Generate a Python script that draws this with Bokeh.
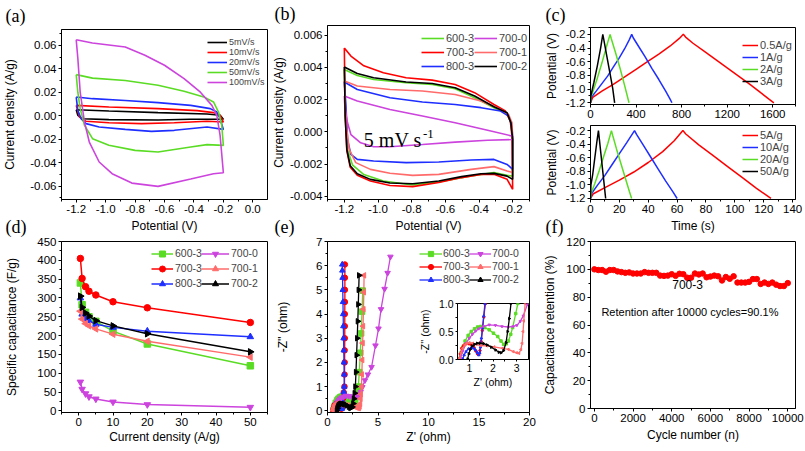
import math
from bokeh.plotting import figure
from bokeh.layouts import row, column
from bokeh.models import (Range1d, FixedTicker, NumeralTickFormatter, Legend,
                          LegendItem, Label, Title)
from bokeh.embed import file_html
from bokeh.resources import INLINE

SANS = "Liberation Sans"
SERIF = "Liberation Serif"
RED = "#FF0000"
BLUE = "#1E2EFF"
GREEN = "#5ADC24"
MAGENTA = "#CC44DD"
SALMON = "#FF6B6B"
BLACK = "#000000"

# ---------------- (a) CV at different scan rates ----------------
a_labels = ["5mV/s", "10mV/s", "20mV/s", "50mV/s", "100mV/s"]
a_x_5 = [-1.2, -0.978, -0.644, -0.311, -0.222, -0.2, -0.422, -0.644, -0.978, -1.156, -1.189, -1.2]
a_y_5 = [0.0051, 0.0040, 0.0026, 0.0014, 0.0004, -0.0031, -0.0031, -0.0037, -0.0034, -0.0026, 0.0003, 0.0051]
a_x_10 = [-1.2, -0.978, -0.644, -0.378, -0.267, -0.222, -0.2, -0.311, -0.533, -0.756, -0.978, -1.133, -1.178, -1.2]
a_y_10 = [0.0088, 0.0074, 0.0060, 0.0043, 0.0026, 0.0003, -0.0054, -0.0048, -0.0060, -0.0068, -0.0060, -0.0048, -0.0011, 0.0088]
a_x_20 = [-1.2, -1.089, -0.867, -0.644, -0.422, -0.289, -0.244, -0.222, -0.2, -0.311, -0.533, -0.689, -0.867, -1.044, -1.133, -1.167, -1.189, -1.2]
a_y_20 = [0.0159, 0.0145, 0.0130, 0.0111, 0.0088, 0.0060, 0.0031, -0.0026, -0.0117, -0.0097, -0.0125, -0.0134, -0.0117, -0.0097, -0.0068, -0.0026, 0.0045, 0.0159]
a_x_50 = [-1.2, -1.089, -0.867, -0.644, -0.467, -0.333, -0.267, -0.233, -0.211, -0.2, -0.311, -0.422, -0.644, -0.8, -0.978, -1.089, -1.144, -1.173, -1.189, -1.2]
a_y_50 = [0.035, 0.032, 0.030, 0.0259, 0.0208, 0.016, 0.0117, 0.0031, -0.0082, -0.0253, -0.0247, -0.0267, -0.031, -0.0296, -0.0253, -0.0196, -0.0082, 0.006, 0.020, 0.035]
a_x_100 = [-1.2, -1.09, -0.867, -0.733, -0.6, -0.467, -0.356, -0.278, -0.244, -0.222, -0.2, -0.267, -0.422, -0.644, -0.822, -0.956, -1.044, -1.111, -1.144, -1.173, -1.189, -1.2]
a_y_100 = [0.0648, 0.062, 0.0586, 0.0515, 0.043, 0.0316, 0.020, 0.0088, 0.0, -0.017, -0.0487, -0.0495, -0.054, -0.0603, -0.0575, -0.0495, -0.0395, -0.0225, -0.0054, 0.0202, 0.049, 0.0648]

# ---------------- (b) CV at 5 mV/s, samples ----------------
b_x_600_3 = [-1.2, -1.123, -1.026, -0.833, -0.678, -0.542, -0.426, -0.311, -0.233, -0.21, -0.2, -0.2, -0.233, -0.311, -0.446, -0.639, -0.794, -0.968, -1.084, -1.152, -1.181, -1.193, -1.2]
b_y_600_3 = [0.00387, 0.0035, 0.00325, 0.00305, 0.00294, 0.00267, 0.00212, 0.0015, 0.00114, 0.0005, -0.00048, -0.00275, -0.0027, -0.00253, -0.00274, -0.00311, -0.0033, -0.00305, -0.00265, -0.00205, -0.0011, 0.0008, 0.00387]
b_x_700_3 = [-1.2, -1.161, -1.084, -0.968, -0.833, -0.678, -0.542, -0.426, -0.311, -0.243, -0.214, -0.204, -0.2, -0.233, -0.311, -0.388, -0.504, -0.639, -0.794, -0.929, -1.045, -1.123, -1.165, -1.185, -1.195, -1.2]
b_y_700_3 = [0.00521, 0.0047, 0.0041, 0.00367, 0.00336, 0.00321, 0.00294, 0.00243, 0.0017, 0.00129, 0.00066, -0.00027, -0.00357, -0.00295, -0.00264, -0.00264, -0.00284, -0.00315, -0.0034, -0.00333, -0.00305, -0.0027, -0.0022, -0.0012, 0.001, 0.00521]
b_x_800_3 = [-1.2, -1.123, -0.929, -0.736, -0.542, -0.388, -0.272, -0.224, -0.204, -0.2, -0.2, -0.233, -0.311, -0.446, -0.639, -0.833, -1.026, -1.123, -1.161, -1.181, -1.19, -1.2]
b_y_800_3 = [0.00309, 0.00263, 0.00212, 0.00185, 0.0017, 0.0015, 0.00129, 0.00098, 0.00035, -0.00048, -0.00233, -0.00202, -0.00171, -0.00175, -0.00187, -0.00191, -0.00181, -0.00171, -0.0014, -0.00048, 0.00159, 0.00309]
b_x_700_0 = [-1.2, -1.123, -0.929, -0.736, -0.542, -0.349, -0.2, -0.2, -0.349, -0.542, -0.736, -0.929, -1.026, -1.103, -1.161, -1.181, -1.196, -1.2]
b_y_700_0 = [0.00222, 0.00191, 0.00139, 0.00098, 0.00056, 0.0001, -0.00027, -0.00048, -0.00052, -0.00064, -0.00079, -0.00093, -0.00093, -0.00068, -0.00017, 0.00056, 0.00139, 0.00222]
b_x_700_1 = [-1.2, -1.123, -0.929, -0.736, -0.542, -0.388, -0.272, -0.224, -0.204, -0.2, -0.2, -0.233, -0.311, -0.446, -0.639, -0.794, -0.929, -1.045, -1.132, -1.171, -1.19, -1.2]
b_y_700_1 = [0.00315, 0.00284, 0.00263, 0.00253, 0.00232, 0.00191, 0.00139, 0.00108, 0.00056, -0.00048, -0.00253, -0.00243, -0.00216, -0.00233, -0.00264, -0.0027, -0.00257, -0.00233, -0.00191, -0.00109, 0.00056, 0.00315]
b_x_700_2 = [-1.2, -1.123, -1.026, -0.833, -0.678, -0.542, -0.426, -0.311, -0.233, -0.21, -0.2, -0.2, -0.233, -0.311, -0.388, -0.504, -0.639, -0.794, -0.929, -1.045, -1.123, -1.165, -1.185, -1.195, -1.2]
b_y_700_2 = [0.00402, 0.00362, 0.00336, 0.00309, 0.003, 0.00274, 0.00222, 0.00156, 0.00119, 0.00056, -0.00048, -0.00295, -0.00275, -0.00258, -0.0026, -0.00278, -0.00305, -0.00322, -0.00318, -0.00295, -0.0026, -0.0021, -0.0011, 0.001, 0.00402]

# ---------------- (c) GCD ----------------
c_t_05 = [0, 20, 100, 200, 300, 400, 500, 600, 700, 780, 815, 835, 900, 1000, 1100, 1200, 1300, 1400, 1500, 1570, 1610]
c_v_05 = [-1.2, -1.12, -1.03, -0.93, -0.82, -0.71, -0.60, -0.49, -0.37, -0.26, -0.2, -0.24, -0.33, -0.45, -0.57, -0.69, -0.81, -0.93, -1.06, -1.15, -1.2]
c_t_1 = [0, 8, 50, 100, 150, 200, 250, 300, 340, 362, 375, 420, 480, 540, 600, 660, 700, 715]
c_v_1 = [-1.2, -1.12, -1.03, -0.92, -0.81, -0.68, -0.55, -0.41, -0.28, -0.2, -0.25, -0.37, -0.53, -0.70, -0.86, -1.03, -1.15, -1.2]
c_t_2 = [0, 4, 30, 60, 100, 140, 172, 182, 220, 260, 300, 338]
c_v_2 = [-1.2, -1.12, -0.99, -0.84, -0.62, -0.38, -0.2, -0.26, -0.47, -0.70, -0.95, -1.2]
c_t_3 = [0, 3, 30, 60, 90, 108, 116, 140, 170, 195, 212]
c_v_3 = [-1.2, -1.1, -0.9, -0.66, -0.39, -0.2, -0.27, -0.49, -0.76, -0.99, -1.2]
c_t_5 = [0, 2, 10, 20, 30, 40, 50, 58, 64, 66, 75, 85, 95, 105, 115, 121, 125]
c_v_5 = [-1.2, -1.13, -1.04, -0.93, -0.81, -0.67, -0.51, -0.35, -0.2, -0.25, -0.41, -0.57, -0.73, -0.89, -1.05, -1.14, -1.2]
c_t_10 = [0, 1, 5, 10, 15, 20, 25, 30.5, 32, 37, 42, 47, 52, 57, 60]
c_v_10 = [-1.2, -1.12, -1.0, -0.86, -0.70, -0.54, -0.38, -0.2, -0.26, -0.43, -0.60, -0.77, -0.94, -1.1, -1.2]
c_t_20 = [0, 0.5, 3, 6, 9, 12, 14.5, 15.5, 18, 21, 24, 27, 28.5]
c_v_20 = [-1.2, -1.12, -0.98, -0.79, -0.59, -0.39, -0.2, -0.28, -0.47, -0.68, -0.89, -1.1, -1.2]
c_t_50 = [0, 0.3, 1.5, 3, 4.5, 5.5, 6.0, 7.5, 9, 10.5]
c_v_50 = [-1.2, -1.0, -0.85, -0.6, -0.35, -0.2, -0.3, -0.6, -0.9, -1.2]

# ---------------- (d) rate capability ----------------
d_current = [0.5, 1, 2, 3, 5, 10, 20, 50]
d_600_3 = [340, 282, 262, 250, 238, 212, 178, 120]
d_700_3 = [405, 352, 330, 318, 308, 290, 274, 235]
d_800_3 = [300, 257, 245, 240, 230, 222, 212, 197]
d_700_0 = [77, 58, 46, 38, 32, 24, 17, 10]
d_700_1 = [265, 244, 232, 226, 218, 204, 185, 143]
d_700_2 = [305, 275, 260, 252, 240, 226, 205, 157]

# ---------------- (e) Nyquist ----------------
e_x_600_3 = [0.59, 0.65, 0.72, 0.82, 0.95, 1.08, 1.22, 1.35, 1.48, 1.65, 1.84, 2.02, 2.2, 2.34, 2.45, 2.56, 2.65, 2.75, 2.83, 2.96, 3.05, 3.15, 3.25, 3.33, 3.42, 3.49]
e_y_600_3 = [0.02, 0.12, 0.22, 0.33, 0.43, 0.5, 0.55, 0.58, 0.59, 0.57, 0.53, 0.47, 0.41, 0.33, 0.27, 0.28, 0.33, 0.45, 0.57, 0.82, 1.0, 1.6, 2.4, 3.2, 4.1, 4.97]
e_x_700_3 = [0.58, 0.62, 0.68, 0.76, 0.86, 0.99, 1.1, 1.2, 1.28, 1.35, 1.4, 1.45, 1.5, 1.55, 1.61, 1.68, 1.69, 1.70, 1.70, 1.71, 1.71, 1.71, 1.72, 1.72, 1.72, 1.72]
e_y_700_3 = [0.01, 0.1, 0.2, 0.25, 0.28, 0.28, 0.26, 0.21, 0.15, 0.1, 0.09, 0.16, 0.32, 0.52, 0.76, 1.0, 1.5, 2.0, 2.5, 3.0, 3.5, 4.0, 4.5, 5.0, 5.5, 6.05]
e_x_800_3 = [0.72, 0.78, 0.86, 0.96, 1.08, 1.18, 1.26, 1.34, 1.4, 1.44, 1.47, 1.51, 1.56, 1.61, 1.66, 1.65, 1.63, 1.61, 1.59, 1.57, 1.55, 1.53, 1.51, 1.49, 1.47, 1.46]
e_y_800_3 = [0.01, 0.08, 0.14, 0.19, 0.21, 0.2, 0.17, 0.12, 0.08, 0.12, 0.22, 0.38, 0.57, 0.78, 1.0, 1.5, 2.0, 2.5, 3.0, 3.5, 4.0, 4.5, 5.0, 5.5, 5.8, 6.05]
e_x_700_0 = [0.63, 0.72, 0.86, 1.0, 1.13, 1.27, 1.4, 1.6, 1.84, 2.1, 2.38, 2.65, 2.85, 3.01, 3.15, 3.28, 3.45, 3.71, 4.0, 4.36, 4.75, 5.05, 5.3, 5.65, 5.95, 6.23]
e_y_700_0 = [0.02, 0.15, 0.29, 0.38, 0.45, 0.51, 0.55, 0.59, 0.62, 0.61, 0.59, 0.58, 0.59, 0.61, 0.68, 0.78, 0.98, 1.26, 1.5, 1.81, 2.7, 3.4, 4.2, 5.04, 5.7, 6.37]
e_x_700_1 = [0.58, 0.65, 0.72, 0.81, 0.9, 1.0, 1.15, 1.3, 1.47, 1.75, 2.05, 2.4, 2.65, 2.86, 3.0, 3.1, 3.18, 3.23, 3.27, 3.3, 3.36, 3.4, 3.44, 3.48, 3.52, 3.56, 3.6, 3.62]
e_y_700_1 = [0.02, 0.12, 0.2, 0.26, 0.29, 0.3, 0.29, 0.27, 0.25, 0.245, 0.225, 0.2, 0.18, 0.14, 0.12, 0.11, 0.18, 0.29, 0.5, 0.69, 1.0, 1.5, 2.1, 2.8, 3.5, 4.2, 4.9, 5.6]
e_x_700_2 = [0.93, 0.98, 1.04, 1.12, 1.22, 1.33, 1.44, 1.6, 1.75, 1.93, 2.11, 2.25, 2.34, 2.45, 2.55, 2.62, 2.69, 2.76, 2.82, 2.88, 2.94, 3.0, 3.05, 3.09, 3.13]
e_y_700_2 = [0.01, 0.1, 0.18, 0.24, 0.27, 0.29, 0.29, 0.285, 0.26, 0.22, 0.17, 0.13, 0.12, 0.16, 0.3, 0.5, 0.73, 1.0, 1.6, 2.3, 3.0, 3.7, 4.4, 5.0, 5.6]

# ---------------- (f) cycling ----------------
f_cycles = [0, 200, 400, 600, 800, 1000, 1200, 1400, 1600, 1800, 2000, 2200, 2400, 2600, 2800,
            3000, 3200, 3400, 3600, 3800, 4000, 4200, 4400, 4600, 4800, 5000, 5200, 5400, 5600,
            5800, 6000, 6200, 6400, 6600, 6800, 7000, 7200, 7400, 7600, 7800, 8000, 8200, 8400,
            8600, 8800, 9000, 9200, 9400, 9600, 9800, 10000]
f_retention = [100, 99.5, 99.5, 98.3, 99.5, 99.5, 98.5, 98, 97.5, 97.8, 97, 97, 97, 98, 97.5,
               97.5, 97.5, 95.5, 95.3, 95.5, 96.5, 95.3, 96.8, 96.5, 94, 94, 97, 96.3, 97,
               94.3, 94.8, 95.5, 95, 92, 94.5, 93.2, 95, 90.5, 90.5, 90.5, 91, 93, 93,
               89.5, 90.5, 89.5, 90.5, 89, 88, 88, 90.1]

SAMPLES = ["600-3", "700-3", "800-3", "700-0", "700-1", "700-2"]
S_COLORS = [GREEN, RED, BLUE, MAGENTA, SALMON, BLACK]
S_MARKERS = ["square", "circle", "triangle", "inverted_triangle", "triangle", "triangle"]
S_ANGLES = [0, 0, 0, 0, math.pi / 2, -math.pi / 2]


def make_fig(w, h, xr, yr, mb, transparent=False):
    p = figure(width=w, height=h, x_range=Range1d(*xr), y_range=Range1d(*yr),
               output_backend="svg", toolbar_location=None, tools="", title=None,
               min_border_left=mb[0], min_border_right=mb[1],
               min_border_top=mb[2], min_border_bottom=mb[3])
    p.xgrid.visible = False
    p.ygrid.visible = False
    p.outline_line_color = "black"
    p.outline_line_alpha = 1.0
    p.outline_line_width = 1
    p.background_fill_color = "white"
    if transparent:
        p.border_fill_alpha = 0
    else:
        p.border_fill_color = "white"
    return p


def set_letter(p, text, offset, standoff):
    p.title = Title(text=text, align="left", offset=offset, standoff=standoff,
                    text_font=SERIF, text_font_size="18px", text_font_style="normal",
                    text_color="black")
    p.title_location = "above"


def style_axis(ax, ticks, minor, label, fmt=None, tick_size="11.5px",
               label_size="12px", label_standoff=3, tick_out=3):
    ax.ticker = FixedTicker(ticks=ticks, minor_ticks=minor)
    if fmt:
        ax.formatter = NumeralTickFormatter(format=fmt)
    ax.axis_label = label
    ax.axis_label_text_font = SANS
    ax.axis_label_text_font_size = label_size
    ax.axis_label_text_font_style = "normal"
    ax.axis_label_text_color = "black"
    ax.major_label_text_font = SANS
    ax.major_label_text_font_size = tick_size
    ax.major_label_text_color = "black"
    ax.major_tick_out = tick_out
    ax.major_tick_in = 0
    ax.minor_tick_out = 2
    ax.minor_tick_in = 0
    ax.major_label_standoff = 2
    ax.axis_label_standoff = label_standoff
    ax.axis_line_width = 1
    ax.axis_line_color = "black"
    ax.major_tick_line_color = "black"
    ax.minor_tick_line_color = "black"


def add_legend(p, items, left, top, rowh, glyph_w, font_size, standoff, frame_h):
    n = len(items)
    leg = Legend(items=[LegendItem(label=lab, renderers=rs) for lab, rs in items],
                 location=(left, frame_h - top - n * rowh), orientation="vertical",
                 padding=0, margin=0, spacing=0, glyph_width=glyph_w,
                 glyph_height=int(rowh), label_height=int(rowh), label_standoff=standoff,
                 label_text_font_size=font_size, label_text_font=SANS,
                 label_text_baseline="middle", border_line_alpha=0,
                 background_fill_alpha=0)
    p.add_layout(leg)


# ================= (a) =================  column 0: x 0-268, y 0-237
pa = make_fig(268, 237, (-1.3, 0.1), (-0.0715, 0.0735), (58, 1, 29, 38))
set_letter(pa, "(a)", -56, 7)
style_axis(pa.xaxis[0], [-1.2, -1.0, -0.8, -0.6, -0.4, -0.2, 0.0],
           [-1.3, -1.1, -0.9, -0.7, -0.5, -0.3, -0.1], "Potential (V)", "0.0")
style_axis(pa.yaxis[0], [-0.06, -0.04, -0.02, 0.0, 0.02, 0.04, 0.06],
           [-0.07, -0.05, -0.03, -0.01, 0.01, 0.03, 0.05, 0.07],
           "Current density (A/g)", "0.00", label_standoff=10)
a_series = [(a_x_5, a_y_5, BLACK), (a_x_10, a_y_10, RED), (a_x_20, a_y_20, BLUE),
            (a_x_50, a_y_50, GREEN), (a_x_100, a_y_100, MAGENTA)]
a_items = []
for lab, (xs, ys, col) in zip(a_labels, a_series):
    r = pa.line(xs, ys, line_color=col, line_width=1.6)
    a_items.append((lab, [r]))
add_legend(pa, a_items, 146, 6, 10.4, 20, "9px", 2, 170)

# ================= (b) =================  column 1: x 268-540
pb = make_fig(272, 237, (-1.3, -0.1), (-0.0042, 0.0066), (55, 11, 25, 38))
set_letter(pb, "(b)", -53, 3)
style_axis(pb.xaxis[0], [-1.2, -1.0, -0.8, -0.6, -0.4, -0.2],
           [-1.3, -1.1, -0.9, -0.7, -0.5, -0.3, -0.1], "Potential (V)", "0.0")
style_axis(pb.yaxis[0], [-0.004, -0.002, 0.0, 0.002, 0.004, 0.006],
           [-0.003, -0.001, 0.001, 0.003, 0.005], "Current density (A/g)", "0.000",
           label_standoff=1)
b_data = [(b_x_600_3, b_y_600_3), (b_x_700_3, b_y_700_3), (b_x_800_3, b_y_800_3),
          (b_x_700_0, b_y_700_0), (b_x_700_1, b_y_700_1), (b_x_700_2, b_y_700_2)]
b_items = []
for lab, (xs, ys), col in zip(SAMPLES, b_data, S_COLORS):
    r = pb.line(xs, ys, line_color=col, line_width=1.6)
    b_items.append((lab, [r]))
add_legend(pb, b_items[:3], 94, 5, 14.2, 23, "11px", 2, 174)
add_legend(pb, b_items[3:], 147, 5, 14.2, 23, "11px", 2, 174)
pb.add_layout(Label(x=-1.084, y=-0.00049, text="5 mV s", text_font=SERIF,
                    text_font_size="20px", text_color="black", text_baseline="alphabetic"))
pb.add_layout(Label(x=-0.733, y=-0.00012, text="-1", text_font=SERIF,
                    text_font_size="13px", text_color="black", text_baseline="alphabetic"))

# ================= (c) =================  column 2: x 540-804, frames 585-795
pc1 = make_fig(264, 124, (0, 1800), (-1.225, -0.1), (45, 9, 27, 20))
set_letter(pc1, "(c)", -45, 5)
style_axis(pc1.xaxis[0], [0, 400, 800, 1200, 1600], [200, 600, 1000, 1400, 1800], None)
style_axis(pc1.yaxis[0], [-1.2, -1.0, -0.8, -0.6, -0.4, -0.2],
           [-1.1, -0.9, -0.7, -0.5, -0.3, -0.1], "Potential (V)", "0.0", label_standoff=4)
c1_items = []
for lab, xs, ys, col in [("0.5A/g", c_t_05, c_v_05, RED), ("1A/g", c_t_1, c_v_1, BLUE),
                         ("2A/g", c_t_2, c_v_2, GREEN), ("3A/g", c_t_3, c_v_3, BLACK)]:
    r = pc1.line(xs, ys, line_color=col, line_width=1.5)
    c1_items.append((lab, [r]))
add_legend(pc1, c1_items, 152, 8.3, 12.8, 16, "11px", 2, 77)

pc2 = make_fig(264, 113, (0, 142), (-1.215, -0.125), (45, 9, 1, 38), transparent=True)
style_axis(pc2.xaxis[0], [0, 20, 40, 60, 80, 100, 120, 140],
           [10, 30, 50, 70, 90, 110, 130], "Time (s)")
style_axis(pc2.yaxis[0], [-1.2, -1.0, -0.8, -0.6, -0.4, -0.2],
           [-1.1, -0.9, -0.7, -0.5, -0.3], "Potential (V)", "0.0", label_standoff=4)
c2_items = []
for lab, xs, ys, col in [("5A/g", c_t_5, c_v_5, RED), ("10A/g", c_t_10, c_v_10, BLUE),
                         ("20A/g", c_t_20, c_v_20, GREEN), ("50A/g", c_t_50, c_v_50, BLACK)]:
    r = pc2.line(xs, ys, line_color=col, line_width=1.5)
    c2_items.append((lab, [r]))
add_legend(pc2, c2_items, 152, 0.3, 12.8, 16, "11px", 2, 74)

# ================= (d) =================  canvas y 205-450, frame 241-412
pd = make_fig(268, 245, (-5, 55), (-4, 450), (58, 1, 36, 38), transparent=True)
pd.margin = (-32, 0, 0, 0)
set_letter(pd, "(d)", -56, 10)
style_axis(pd.xaxis[0], [0, 10, 20, 30, 40, 50], [-5, 5, 15, 25, 35, 45, 55],
           "Current density (A/g)", label_standoff=1)
style_axis(pd.yaxis[0], [0, 50, 100, 150, 200, 250, 300, 350, 400, 450],
           [25, 75, 125, 175, 225, 275, 325, 375, 425], "Specific capacitance (F/g)",
           label_standoff=15)
d_vals = [d_600_3, d_700_3, d_800_3, d_700_0, d_700_1, d_700_2]
d_items = []
for lab, ys, col, mk, ang in zip(SAMPLES, d_vals, S_COLORS, S_MARKERS, S_ANGLES):
    r1 = pd.line(d_current, ys, line_color=col, line_width=1.5)
    r2 = pd.scatter(d_current, ys, marker=mk, angle=ang, size=6.5, fill_color=col,
                    line_color=col)
    d_items.append((lab, [r1, r2]))
add_legend(pd, d_items[:3], 90, 4.5, 15, 22, "10.5px", 2, 171)
add_legend(pd, d_items[3:], 140, 4.5, 15, 28, "10.5px", 2, 171)

# ================= (e) =================
pe = make_fig(272, 245, (0, 20), (-0.07, 7), (55, 11, 36, 38), transparent=True)
pe.margin = (-32, 0, 0, 0)
set_letter(pe, "(e)", -53, 10)
style_axis(pe.xaxis[0], [0, 5, 10, 15, 20], [2.5, 7.5, 12.5, 17.5], "Z' (ohm)",
           label_standoff=1)
style_axis(pe.yaxis[0], [0, 1, 2, 3, 4, 5, 6, 7], [0.5, 1.5, 2.5, 3.5, 4.5, 5.5, 6.5],
           "-Z'' (ohm)", label_standoff=23)
e_data = [(e_x_600_3, e_y_600_3), (e_x_700_3, e_y_700_3), (e_x_800_3, e_y_800_3),
          (e_x_700_0, e_y_700_0), (e_x_700_1, e_y_700_1), (e_x_700_2, e_y_700_2)]

# inset: canvas x 398-539, y 293-393 (frame 453-528 x 303-359)
pi_ = make_fig(141, 100, (0.5, 3.5), (0, 1.0), (55, 11, 10, 34), transparent=True)
pi_.margin = (-157, 0, 0, 130)
pi_.background_fill_alpha = 0
style_axis(pi_.xaxis[0], [1, 2, 3], [1.5, 2.5], "Z' (ohm)", tick_size="10.5px",
           label_size="10.5px", label_standoff=1, tick_out=2)
style_axis(pi_.yaxis[0], [0.0, 0.5, 1.0], [0.25, 0.75], "-Z'' (ohm)", "0.0",
           tick_size="10.5px", label_size="10.5px", label_standoff=5, tick_out=2)

e_items = []
for lab, (xs, ys), col, mk, ang in zip(SAMPLES, e_data, S_COLORS, S_MARKERS, S_ANGLES):
    r1 = pe.line(xs, ys, line_color=col, line_width=1.3)
    r2 = pe.scatter(xs, ys, marker=mk, angle=ang, size=5.5, fill_color=col, line_color=col)
    e_items.append((lab, [r1, r2]))
    pi_.line(xs, ys, line_color=col, line_width=1.3)
    pi_.scatter(xs, ys, marker=mk, angle=ang, size=2.5, fill_color=col, line_color=col)
add_legend(pe, e_items[:3], 92, 5.5, 13, 23, "10.5px", 1, 171)
add_legend(pe, e_items[3:], 142, 5.5, 13, 22, "10.5px", 1, 171)

# ================= (f) =================
pf = make_fig(264, 245, (-200, 10400), (0, 120), (45, 9, 36, 42), transparent=True)
pf.margin = (-32, 0, 0, 0)
set_letter(pf, "(f)", -45, 10)
style_axis(pf.xaxis[0], [0, 2000, 4000, 6000, 8000, 10000],
           [1000, 3000, 5000, 7000, 9000], "Cycle number (n)", label_standoff=3)
style_axis(pf.yaxis[0], [0, 20, 40, 60, 80, 100, 120], [10, 30, 50, 70, 90, 110],
           "Capacitance retention (%)", label_standoff=6)
pf.scatter(f_cycles, f_retention, marker="circle", size=5.5, fill_color=RED, line_color=RED)
pf.add_layout(Label(x=4820, y=89.2, text="700-3", text_font=SANS, text_font_size="12px",
                    text_align="center", text_baseline="middle", text_color="black"))
pf.add_layout(Label(x=4940, y=69.6, text="Retention after 10000 cycles=90.1%",
                    text_font=SANS, text_font_size="11px", text_align="center",
                    text_baseline="middle", text_color="black"))

layout = row(column(pa, pd, spacing=0),
             column(pb, pe, pi_, spacing=0),
             column(pc1, pc2, pf, spacing=0),
             spacing=0)

open("out.html", "w").write(file_html(layout, INLINE))
